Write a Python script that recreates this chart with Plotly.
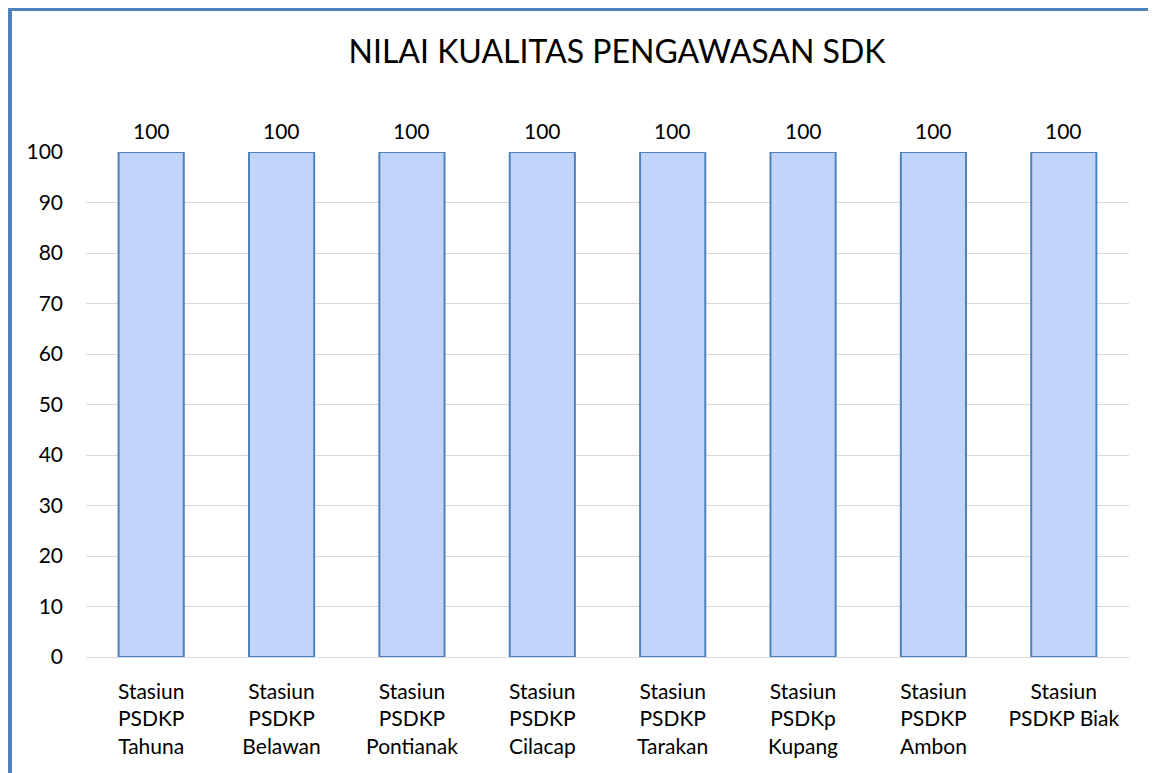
import plotly.graph_objects as go

# data
stations = [
    "Stasiun<br>PSDKP<br>Tahuna",
    "Stasiun<br>PSDKP<br>Belawan",
    "Stasiun<br>PSDKP<br>Pontianak",
    "Stasiun<br>PSDKP<br>Cilacap",
    "Stasiun<br>PSDKP<br>Tarakan",
    "Stasiun<br>PSDKp<br>Kupang",
    "Stasiun<br>PSDKP<br>Ambon",
    "Stasiun<br>PSDKP Biak",
]
nilai = [100, 100, 100, 100, 100, 100, 100, 100]
y_ticks = [0, 10, 20, 30, 40, 50, 60, 70, 80, 90, 100]

# the page sits 8px in from the window corner (body margin)
W, H = 1156, 773
L, R, T, B = 78, 35, 144, 124
pw = W - L - R
ph = H - T - B


def px(x):
    return (x - L) / pw


def py(y):
    return (H - B - y) / ph


font = "Lato, 'Open Sans', sans-serif"

fig = go.Figure()
fig.add_trace(go.Bar(
    x=stations,
    y=nilai,
    width=0.5,
    marker=dict(color="#c0d5f9", line=dict(color="#4f81bd", width=2)),
))

# value labels above bars
for s, v in zip(stations, nilai):
    fig.add_annotation(x=s, y=v, text=str(v), showarrow=False,
                       yanchor="middle", yshift=22,
                       font=dict(family=font, size=21, color="#000000"))

fig.update_layout(
    width=W, height=H,
    margin=dict(l=L, r=R, t=T, b=B),
    paper_bgcolor="white",
    plot_bgcolor="white",
    showlegend=False,
    title=dict(
        text="NILAI KUALITAS PENGAWASAN SDK",
        x=609 / W, xanchor="center",
        y=1 - 44 / H, yanchor="middle",
        font=dict(family=font, size=32, color="#000000"),
    ),
    xaxis=dict(
        showgrid=False,
        showline=False,
        ticks="",
        tickfont=dict(family=font, size=21, color="#000000"),
        ticklabelstandoff=20,
    ),
    yaxis=dict(
        range=[0, 100],
        tickvals=y_ticks,
        showgrid=True,
        gridcolor="#d9d9d9",
        gridwidth=1,
        zeroline=True,
        zerolinecolor="#d9d9d9",
        zerolinewidth=1,
        showline=False,
        ticks="",
        tickfont=dict(family=font, size=21, color="#000000"),
        ticklabelstandoff=22,
    ),
    shapes=[
        # outer chart frame (left + top blue, right light grey)
        dict(type="line", xref="paper", yref="paper",
             x0=px(2), x1=px(2), y0=py(0), y1=py(H + 5),
             line=dict(color="#4f81bd", width=4)),
        dict(type="line", xref="paper", yref="paper",
             x0=px(0), x1=px(W + 5), y0=py(1), y1=py(1),
             line=dict(color="#4f81bd", width=4)),
        dict(type="line", xref="paper", yref="paper",
             x0=px(1145.5), x1=px(1145.5), y0=py(3), y1=py(H + 5),
             line=dict(color="#dfe3e8", width=1.5)),
    ],
)

fig.write_html("out.html")
